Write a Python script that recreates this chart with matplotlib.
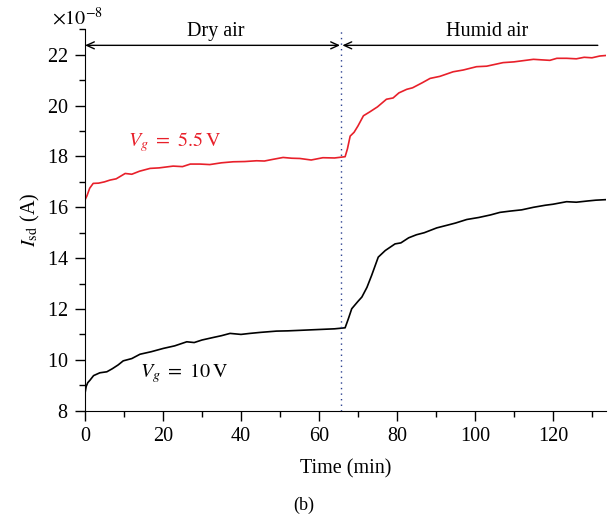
import matplotlib
matplotlib.use('Agg')
import matplotlib.pyplot as plt
import numpy as np

# Vg = 5.5 V curve (red), current in units of 1e-8 A
t_red = [0, 0.5, 1.2, 2.1, 3.5, 5, 6.4, 8, 10.3, 12, 14, 16.7, 19, 22.6, 25, 27, 29.5, 32, 35, 38,
         41, 44, 46, 48, 50.8, 53, 55.1, 58, 61, 64, 66.7, 67.3, 68, 69, 70, 71.4, 73, 75, 77.3, 79,
         80.5, 82.5, 84, 86.5, 88.5, 91, 94.4, 97, 100.4, 103, 107.2, 110, 113, 115, 117, 119.2,
         121, 123.5, 126, 128, 130, 132, 133.5]
i_red = [16.29, 16.45, 16.75, 16.94, 16.95, 17.0, 17.07, 17.12, 17.33, 17.3, 17.42, 17.53, 17.55,
         17.62, 17.6, 17.7, 17.70, 17.68, 17.75, 17.79, 17.8, 17.83, 17.82, 17.88, 17.96, 17.93,
         17.92, 17.86, 17.95, 17.94, 17.99, 18.3, 18.8, 18.95, 19.2, 19.6, 19.75, 19.95, 20.25,
         20.3, 20.5, 20.64, 20.7, 20.9, 21.07, 21.15, 21.33, 21.4, 21.53, 21.55, 21.69, 21.72,
         21.78, 21.82, 21.8, 21.78, 21.86, 21.86, 21.84, 21.9, 21.88, 21.95, 21.97]

# Vg = 10 V curve (black)
t_blk = [0, 0.3, 0.7, 1.28, 2.2, 3.8, 5.6, 7, 8.5, 9.8, 12, 14.1, 17, 20.1, 23, 26.1, 28, 30, 32.9,
         35, 37.2, 40, 42.3, 45, 49.1, 52, 55.1, 58, 61, 64, 66.7, 67.5, 68.4, 70, 71, 72.3, 73.5,
         75.2, 77, 79.5, 81, 83, 85, 87, 90.2, 93, 95, 97.9, 101, 104, 106.4, 109, 112, 115, 118,
         120, 123.5, 126, 129, 131, 133.5]
i_blk = [8.68, 8.95, 9.1, 9.2, 9.38, 9.49, 9.53, 9.65, 9.8, 9.96, 10.05, 10.22, 10.32, 10.45, 10.55,
         10.71, 10.68, 10.78, 10.88, 10.95, 11.04, 11.0, 11.04, 11.08, 11.13, 11.14, 11.16, 11.18,
         11.2, 11.22, 11.26, 11.6, 12.01, 12.3, 12.47, 12.85, 13.32, 14.04, 14.3, 14.56, 14.6,
         14.8, 14.92, 15.0, 15.19, 15.3, 15.38, 15.52, 15.6, 15.7, 15.8, 15.85, 15.9, 16.0, 16.08,
         16.12, 16.22, 16.2, 16.25, 16.28, 16.3]

t_switch = 65.7

plt.rcParams['font.family'] = ['Liberation Serif', 'DejaVu Serif']
plt.rcParams['mathtext.fontset'] = 'stix'

fig = plt.figure(figsize=(6.08, 5.19), dpi=100)
ax = fig.add_axes([0.1398, 0.2087, 0.8569, 0.7348])

ax.plot(t_red, np.array(i_red) * 1e-8, color='#e8202a', lw=1.2)
ax.plot(t_blk, np.array(i_blk) * 1e-8, color='black', lw=1.2)
ax.axvline(t_switch, color='#2a3f8f', ls=(0, (1, 3)), lw=1)

ax.set_xlim(0, 133.6)
ax.set_ylim(8e-8, 23e-8)
ax.set_xticks(np.arange(0, 121, 20))
ax.set_xticks(np.arange(10, 131, 20), minor=True)
ax.set_yticks(np.arange(8, 23, 2) * 1e-8)
ax.set_yticks(np.arange(9, 24, 2) * 1e-8, minor=True)
ax.ticklabel_format(axis='y', style='sci', scilimits=(-8, -8), useMathText=True)
ax.yaxis.get_offset_text().set_visible(False)
ax.tick_params(which='both', direction='out', labelsize=14.5, width=1)
ax.tick_params(which='major', length=7, pad=5)
ax.tick_params(which='minor', length=4)
ax.spines['top'].set_visible(False)
ax.spines['right'].set_visible(False)

ax.set_xlabel('Time (min)', fontsize=14.5, labelpad=9)
ax.set_ylabel(r'$I_{\mathrm{sd}}$ (A)', fontsize=14.5, labelpad=3)
ax.text(-0.015, 1.0, r'$\times10^{-8}$', transform=ax.transAxes, ha='center', va='bottom',
        fontsize=14.5)

ya = 22.37e-8
ax.annotate('', xy=(0, ya), xytext=(t_switch - 0.3, ya),
            arrowprops=dict(arrowstyle='<->,head_length=0.55,head_width=0.25', lw=1, color='black',
                            shrinkA=0, shrinkB=0))
ax.annotate('', xy=(t_switch + 0.3, ya), xytext=(131.5, ya),
            arrowprops=dict(arrowstyle='->,head_length=0.55,head_width=0.25', lw=1, color='black',
                            shrinkA=0, shrinkB=0))
ax.text(33.5, 22.55e-8, 'Dry air', ha='center', va='bottom', fontsize=14.5)
ax.text(103, 22.55e-8, 'Humid air', ha='center', va='bottom', fontsize=14.5)

ax.text(11, 18.58e-8, r'$V_g\ =\ 5.5\,\mathrm{V}$', color='#e8202a', fontsize=14.5, va='center')
ax.text(14.1, 9.48e-8, r'$V_g\ =\ 10\,\mathrm{V}$', color='black', fontsize=14.5, va='center')

fig.text(0.5, 0.027, '(b)', ha='center', va='center', fontsize=13)

fig.savefig('out.png', dpi=100)
